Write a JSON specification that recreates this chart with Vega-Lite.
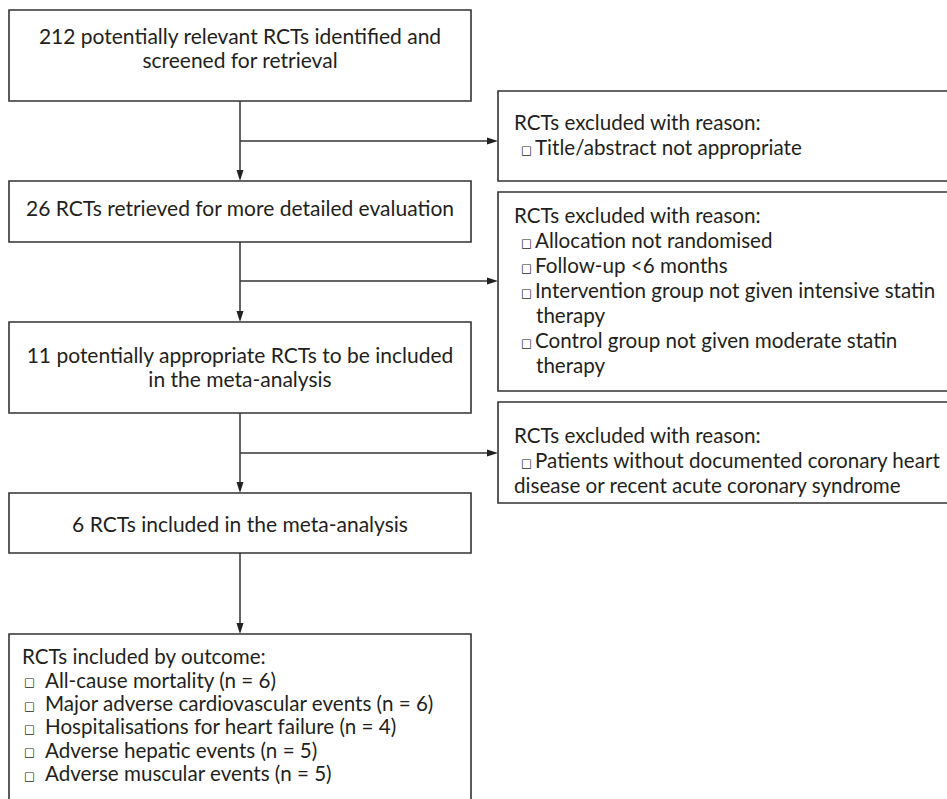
{
  "$schema": "https://vega.github.io/schema/vega-lite/v6.json",
  "width": 947,
  "height": 799,
  "autosize": "none",
  "padding": 0,
  "background": "white",
  "config": {"view": {"stroke": null}},
  "datasets": {
    "boxes": [
      {"id": "identified", "x": 9, "x2": 471, "y": 10, "y2": 101},
      {"id": "retrieved", "x": 9, "x2": 471, "y": 181, "y2": 242},
      {"id": "appropriate", "x": 9, "x2": 471, "y": 322, "y2": 413},
      {"id": "included", "x": 9, "x2": 471, "y": 493, "y2": 553},
      {"id": "byOutcome", "x": 9, "x2": 471, "y": 634, "y2": 808},
      {"id": "excl1", "x": 498, "x2": 955, "y": 91, "y2": 181},
      {"id": "excl2", "x": 498, "x2": 955, "y": 192, "y2": 391},
      {"id": "excl3", "x": 498, "x2": 955, "y": 402, "y2": 503}
    ],
    "links": [
      {"x": 240, "y": 101, "x2": 240, "y2": 176},
      {"x": 240, "y": 242, "x2": 240, "y2": 317},
      {"x": 240, "y": 413, "x2": 240, "y2": 488},
      {"x": 240, "y": 553, "x2": 240, "y2": 629},
      {"x": 240, "y": 141, "x2": 493, "y2": 141},
      {"x": 240, "y": 281, "x2": 493, "y2": 281},
      {"x": 240, "y": 453, "x2": 493, "y2": 453}
    ],
    "heads": [
      {"x": 240, "y": 181, "dir": "down"},
      {"x": 240, "y": 322, "dir": "down"},
      {"x": 240, "y": 493, "dir": "down"},
      {"x": 240, "y": 634, "dir": "down"},
      {"x": 498, "y": 141, "dir": "right"},
      {"x": 498, "y": 281, "dir": "right"},
      {"x": 498, "y": 453, "dir": "right"}
    ],
    "labels": [
      {"role": "step", "x": 240, "y": 43.5, "t": "212 potentially relevant RCTs identified and"},
      {"role": "step", "x": 240, "y": 68, "t": "screened for retrieval"},
      {"role": "step", "x": 240, "y": 216, "t": "26 RCTs retrieved for more detailed evaluation"},
      {"role": "step", "x": 240, "y": 363, "t": "11 potentially appropriate RCTs to be included"},
      {"role": "step", "x": 240, "y": 387, "t": "in the meta-analysis"},
      {"role": "step", "x": 240, "y": 532, "t": "6 RCTs included in the meta-analysis"},
      {"role": "detail", "x": 514, "y": 130, "t": "RCTs excluded with reason:"},
      {"role": "bullet", "x": 521, "y": 155, "t": "□"},
      {"role": "detail", "x": 535, "y": 155, "t": "Title/abstract not appropriate"},
      {"role": "detail", "x": 514, "y": 223, "t": "RCTs excluded with reason:"},
      {"role": "bullet", "x": 521, "y": 248, "t": "□"},
      {"role": "detail", "x": 535, "y": 248, "t": "Allocation not randomised"},
      {"role": "bullet", "x": 521, "y": 273, "t": "□"},
      {"role": "detail", "x": 535, "y": 273, "t": "Follow-up <6 months"},
      {"role": "bullet", "x": 521, "y": 298, "t": "□"},
      {"role": "detail", "x": 535, "y": 298, "t": "Intervention group not given intensive statin"},
      {"role": "detail", "x": 536, "y": 323, "t": "therapy"},
      {"role": "bullet", "x": 521, "y": 348, "t": "□"},
      {"role": "detail", "x": 535, "y": 348, "t": "Control group not given moderate statin"},
      {"role": "detail", "x": 536, "y": 373, "t": "therapy"},
      {"role": "detail", "x": 514, "y": 443, "t": "RCTs excluded with reason:"},
      {"role": "bullet", "x": 521, "y": 468, "t": "□"},
      {"role": "detail", "x": 535, "y": 468, "t": "Patients without documented coronary heart"},
      {"role": "detail", "x": 514, "y": 493, "t": "disease or recent acute coronary syndrome"},
      {"role": "detail", "x": 22, "y": 664, "t": "RCTs included by outcome:"},
      {"role": "bullet", "x": 24, "y": 687.5, "t": "□"},
      {"role": "detail", "x": 45, "y": 687.5, "t": "All-cause mortality (n = 6)"},
      {"role": "bullet", "x": 24, "y": 711, "t": "□"},
      {"role": "detail", "x": 45, "y": 711, "t": "Major adverse cardiovascular events (n = 6)"},
      {"role": "bullet", "x": 24, "y": 734, "t": "□"},
      {"role": "detail", "x": 45, "y": 734, "t": "Hospitalisations for heart failure (n = 4)"},
      {"role": "bullet", "x": 24, "y": 757.5, "t": "□"},
      {"role": "detail", "x": 45, "y": 757.5, "t": "Adverse hepatic events (n = 5)"},
      {"role": "bullet", "x": 24, "y": 781, "t": "□"},
      {"role": "detail", "x": 45, "y": 781, "t": "Adverse muscular events (n = 5)"}
    ]
  },
  "layer": [
    {
      "data": {"name": "boxes"},
      "mark": {"type": "rect", "fill": "white", "stroke": "#333333", "strokeWidth": 1.6},
      "encoding": {
        "x": {"field": "x", "type": "quantitative", "scale": {"domain": [0, 947], "nice": false, "zero": false}, "axis": null},
        "x2": {"field": "x2"},
        "y": {"field": "y", "type": "quantitative", "scale": {"domain": [0, 799], "nice": false, "zero": false, "reverse": true}, "axis": null},
        "y2": {"field": "y2"}
      }
    },
    {
      "data": {"name": "links"},
      "mark": {"type": "rule", "stroke": "#333333", "strokeWidth": 1.5},
      "encoding": {
        "x": {"field": "x", "type": "quantitative", "scale": {"domain": [0, 947], "nice": false, "zero": false}, "axis": null},
        "x2": {"field": "x2"},
        "y": {"field": "y", "type": "quantitative", "scale": {"domain": [0, 799], "nice": false, "zero": false, "reverse": true}, "axis": null},
        "y2": {"field": "y2"}
      }
    },
    {
      "data": {"name": "heads"},
      "mark": {"type": "point", "filled": true, "size": 121, "opacity": 1, "strokeWidth": 0},
      "encoding": {
        "x": {"field": "x", "type": "quantitative", "scale": {"domain": [0, 947], "nice": false, "zero": false}, "axis": null},
        "y": {"field": "y", "type": "quantitative", "scale": {"domain": [0, 799], "nice": false, "zero": false, "reverse": true}, "axis": null},
        "shape": {"field": "dir", "type": "nominal", "scale": {"domain": ["down", "right"], "range": ["M-0.64,-2L0.64,-2L0,0Z", "M-2,-0.64L-2,0.64L0,0Z"]}, "legend": null},
        "color": {"value": "#222222"}
      }
    },
    {
      "data": {"name": "labels"},
      "transform": [{"filter": "datum.role === 'step'"}],
      "mark": {"type": "text", "align": "center", "baseline": "alphabetic", "font": "Lato", "fontSize": 21, "color": "#231f20"},
      "encoding": {
        "x": {"field": "x", "type": "quantitative", "scale": {"domain": [0, 947], "nice": false, "zero": false}, "axis": null},
        "y": {"field": "y", "type": "quantitative", "scale": {"domain": [0, 799], "nice": false, "zero": false, "reverse": true}, "axis": null},
        "text": {"field": "t"}
      }
    },
    {
      "data": {"name": "labels"},
      "transform": [{"filter": "datum.role === 'detail'"}],
      "mark": {"type": "text", "align": "left", "baseline": "alphabetic", "font": "Lato", "fontSize": 20.6, "color": "#231f20"},
      "encoding": {
        "x": {"field": "x", "type": "quantitative", "scale": {"domain": [0, 947], "nice": false, "zero": false}, "axis": null},
        "y": {"field": "y", "type": "quantitative", "scale": {"domain": [0, 799], "nice": false, "zero": false, "reverse": true}, "axis": null},
        "text": {"field": "t"}
      }
    },
    {
      "data": {"name": "labels"},
      "transform": [{"filter": "datum.role === 'bullet'"}],
      "mark": {"type": "text", "align": "left", "baseline": "alphabetic", "font": "DejaVu Sans", "fontSize": 11.5, "dy": -1.5, "color": "#231f20"},
      "encoding": {
        "x": {"field": "x", "type": "quantitative", "scale": {"domain": [0, 947], "nice": false, "zero": false}, "axis": null},
        "y": {"field": "y", "type": "quantitative", "scale": {"domain": [0, 799], "nice": false, "zero": false, "reverse": true}, "axis": null},
        "text": {"field": "t"}
      }
    }
  ]
}
